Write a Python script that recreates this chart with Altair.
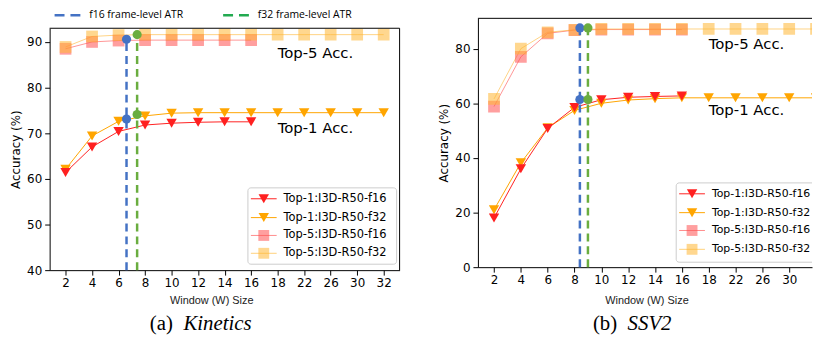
import altair as alt
import pandas as pd

# ---------------- data ----------------
W_LABELS = ["2", "4", "6", "8", "10", "12", "14", "16", "18", "22", "26", "30", "32"]

SERIES = ["Top-1:I3D-R50-f16", "Top-1:I3D-R50-f32", "Top-5:I3D-R50-f16", "Top-5:I3D-R50-f32"]
SERIES_COLORS = ["#ff2020", "#ffa500", "#ff5050", "#ffb733"]
ATR_NAMES = ["f16 frame-level ATR", "f32 frame-level ATR"]
ATR_COLORS = ["#4472c4", "#6aad3f"]

# Kinetics
k_top1_f16 = [61.4, 67.0, 70.4, 71.8, 72.2, 72.4, 72.5, 72.5]
k_top1_f32 = [62.1, 69.4, 72.6, 73.8, 74.4, 74.5, 74.5, 74.5, 74.5, 74.5, 74.5, 74.5, 74.5]
k_top5_f16 = [88.5, 90.0, 90.3, 90.4, 90.4, 90.4, 90.4, 90.4]
k_top5_f32 = [88.9, 91.2, 91.5, 91.6, 91.6, 91.6, 91.6, 91.6, 91.6, 91.6, 91.6, 91.6, 91.6]
k_atr_w = [6.6, 7.4]
k_atr_top5 = [90.6, 91.6]
k_atr_top1 = [73.1, 74.1]
k_annot_y = [87.6, 71.2]

# SSV2
s_top1_f16 = [18.0, 36.0, 50.8, 58.5, 61.3, 62.2, 62.5, 62.7]
s_top1_f32 = [21.0, 38.2, 51.0, 57.4, 60.0, 61.2, 61.7, 62.0, 62.0, 62.0, 62.0, 62.0, 62.0]
s_top5_f16 = [58.8, 77.0, 85.6, 86.8, 87.0, 87.0, 87.0, 87.0]
s_top5_f32 = [61.6, 80.0, 86.0, 86.9, 87.2, 87.2, 87.2, 87.2, 87.2, 87.2, 87.2, 87.2, 87.2]
s_atr_w = [8.4, 9.0]
s_atr_top5 = [87.6, 87.6]
s_atr_top1 = [61.4, 61.4]
s_annot_y = [81.8, 57.6]

ANNOT = ["Top-5 Acc.", "Top-1 Acc."]

COLOR_DOMAIN = SERIES + ATR_NAMES
COLOR_RANGE = SERIES_COLORS + ATR_COLORS
color_scale = alt.Scale(domain=COLOR_DOMAIN, range=COLOR_RANGE)


def w_to_idx(w):
    vals = [float(v) for v in W_LABELS]
    for i in range(len(vals) - 1):
        if vals[i] <= w <= vals[i + 1]:
            return i + (w - vals[i]) / (vals[i + 1] - vals[i])
    return 0


def series_df(vals, name):
    return pd.DataFrame({"idx": list(range(len(vals))), "acc": vals, "series": name})


ONE = pd.DataFrame({"k": [0]})


def panel(t1_16, t1_32, t5_16, t5_32, atr_w, atr5, atr1, annot_y, ydom, yticks,
          width, height, top, xmax, nticks, x_title_x, x_title_y, legend_box, legend_ys,
          legend_fs, caption, top_legend, open_right):
    xs = alt.Scale(domain=[-0.6, xmax], nice=False, zero=False)
    ys = alt.Scale(domain=ydom, range=[height, top], nice=False, zero=False)
    label_expr = "[" + ",".join("'%s'" % w for w in W_LABELS) + "][datum.value]"
    xaxis = alt.Axis(values=list(range(nticks)), labelExpr=label_expr,
                     title="Window (W) Size", titleFont="Liberation Sans", titleFontSize=11,
                     titleFontWeight="normal", titleColor="#222", titleX=x_title_x, titleY=x_title_y,
                     titleBaseline="middle", titleAnchor="middle", titleAlign="center",
                     grid=False, tickSize=5, labelPadding=2, labelFontSize=12,
                     labelFont="DejaVu Sans", labelColor="black", domainColor="black",
                     tickColor="black", labelFlush=False, labelOverlap=False)
    yaxis = alt.Axis(values=yticks, title="Accuracy (%)", titleFont="DejaVu Sans",
                     titleFontSize=12, titleFontWeight="normal", titleColor="black",
                     titlePadding=4, grid=False, tickSize=5, labelPadding=3, labelFontSize=12,
                     labelFont="DejaVu Sans", labelColor="black", domainColor="black",
                     tickColor="black")
    X = alt.X("idx:Q", scale=xs, axis=xaxis)
    Y = alt.Y("acc:Q", scale=ys, axis=yaxis)
    C = alt.Color("series:N", scale=color_scale, legend=None)
    clip = open_right

    top5 = pd.concat([series_df(t5_16, SERIES[2]), series_df(t5_32, SERIES[3])])
    top1 = pd.concat([series_df(t1_32, SERIES[1]), series_df(t1_16, SERIES[0])])

    layers = []
    layers.append(alt.Chart(top5).mark_line(strokeWidth=1, opacity=0.6, clip=clip)
                  .encode(x=X, y=Y, color=C))
    layers.append(alt.Chart(top5).mark_point(shape="square", filled=True, size=140, opacity=0.55,
                                             clip=clip)
                  .encode(x=X, y=Y, color=C))
    layers.append(alt.Chart(top1).mark_line(strokeWidth=1, clip=clip).encode(x=X, y=Y, color=C))
    layers.append(alt.Chart(top1).mark_point(shape="triangle-down", filled=True, size=110, opacity=1,
                                             clip=clip)
                  .encode(x=X, y=Y, color=C))

    atr_rules = pd.DataFrame({"idx": [w_to_idx(w) for w in atr_w], "lo": [ydom[0]] * 2,
                              "acc": atr5, "series": ATR_NAMES})
    layers.append(alt.Chart(atr_rules).mark_rule(strokeWidth=2.5, strokeDash=[8, 5])
                  .encode(x=X, y=alt.Y("lo:Q", scale=ys, axis=yaxis), y2="acc:Q", color=C))
    atr_pts = pd.DataFrame({"idx": [w_to_idx(w) for w in atr_w] * 2, "acc": list(atr5) + list(atr1),
                            "series": ATR_NAMES * 2})
    layers.append(alt.Chart(atr_pts).mark_circle(size=85, opacity=1).encode(x=X, y=Y, color=C))

    ann = pd.DataFrame({"idx": [8.0, 8.0], "acc": annot_y, "label": ANNOT})
    layers.append(alt.Chart(ann).mark_text(font="DejaVu Sans", fontSize=15, align="left",
                                           baseline="middle", color="black")
                  .encode(x=X, y=Y, text="label:N"))

    # legend box
    bx0, bx1, by0, by1 = legend_box
    layers.append(alt.Chart(ONE).mark_rect(fill="white", fillOpacity=0.85, stroke="#cccccc",
                                           strokeWidth=1, cornerRadius=3, clip=clip)
                  .encode(x=alt.value(bx0), x2=alt.value(bx1), y=alt.value(by0), y2=alt.value(by1)))
    shapes = ["triangle-down", "triangle-down", "square", "square"]
    alphas = [1, 1, 0.55, 0.55]
    sizes = [110, 110, 120, 120]
    for name, col, shp, a, sz, ly in zip(SERIES, SERIES_COLORS, shapes, alphas, sizes, legend_ys):
        layers.append(alt.Chart(ONE).mark_rule(strokeWidth=1, opacity=min(1, a + 0.1))
                      .encode(x=alt.value(bx0 + 3), x2=alt.value(bx0 + 29), y=alt.value(ly),
                              color=alt.value(col)))
        layers.append(alt.Chart(ONE).mark_point(shape=shp, filled=True, size=sz, opacity=a)
                      .encode(x=alt.value(bx0 + 16), y=alt.value(ly), color=alt.value(col)))
        layers.append(alt.Chart(ONE).mark_text(font="DejaVu Sans", fontSize=legend_fs, align="left",
                                               baseline="middle", color="black", clip=clip)
                      .encode(x=alt.value(bx0 + 36), y=alt.value(ly), text=alt.value(name)))

    # top legend (only left)
    if top_legend:
        for (x0, name, lc) in [(5, "f16 frame-level ATR", "#4472c4"), (175, "f32 frame-level ATR", "#22aa50")]:
            layers.append(alt.Chart(ONE).mark_rule(strokeWidth=2.5, strokeDash=[10, 6])
                          .encode(x=alt.value(x0), x2=alt.value(x0 + 27), y=alt.value(-3),
                                  color=alt.value(lc)))
            layers.append(alt.Chart(ONE).mark_text(font="Open Sans", fontSize=10.5, align="left",
                                                   baseline="middle", color="black")
                          .encode(x=alt.value(x0 + 35), y=alt.value(-3), text=alt.value(name)))

    # frame lines (top always; right only when panel is not cut by the page edge)
    layers.append(alt.Chart(ONE).mark_rule(strokeWidth=1, color="black")
                  .encode(x=alt.value(0), x2=alt.value(width), y=alt.value(top)))
    if not open_right:
        layers.append(alt.Chart(ONE).mark_rule(strokeWidth=1, color="black")
                      .encode(x=alt.value(width), y=alt.value(top), y2=alt.value(height)))

    # caption
    (lbl, lx, word, wx, cy) = caption
    layers.append(alt.Chart(ONE).mark_text(font="Liberation Serif", fontSize=21, align="left",
                                           baseline="alphabetic", color="black")
                  .encode(x=alt.value(lx), y=alt.value(cy), text=alt.value(lbl)))
    layers.append(alt.Chart(ONE).mark_text(font="Liberation Serif", fontSize=21, fontStyle="italic",
                                           align="left", baseline="alphabetic", color="black")
                  .encode(x=alt.value(wx), y=alt.value(cy), text=alt.value(word)))

    return alt.layer(*layers).properties(width=width, height=height)


left = panel(k_top1_f16, k_top1_f32, k_top5_f16, k_top5_f32, k_atr_w, k_atr_top5, k_atr_top1,
             k_annot_y, [40, 93], [40, 50, 60, 70, 80, 90], 353, 254, 10, 12.6, 13, 163, 31,
             (200, 350, 171, 248), [182, 201, 219, 237], 11.5, ("(a)", 101, "Kinetics", 135, 314),
             True, False)
right = panel(s_top1_f16, s_top1_f32, s_top5_f16, s_top5_f32, s_atr_w, s_atr_top5, s_atr_top1,
              s_annot_y, [0, 91.1], [0, 20, 40, 60, 80], 337, 251, 0, 11.85, 12, 170, 34,
              (200, 350, 166, 246), [177, 196, 214, 233], 11, ("(b)", 116, "SSV2", 151, 314),
              False, True)

chart = alt.hconcat(left, right, spacing=37).configure_view(stroke="transparent").properties(
    padding={"left": 1, "top": 0, "right": 0, "bottom": 0})

chart.save("out.html", embed_options={"renderer": "svg", "actions": False})
